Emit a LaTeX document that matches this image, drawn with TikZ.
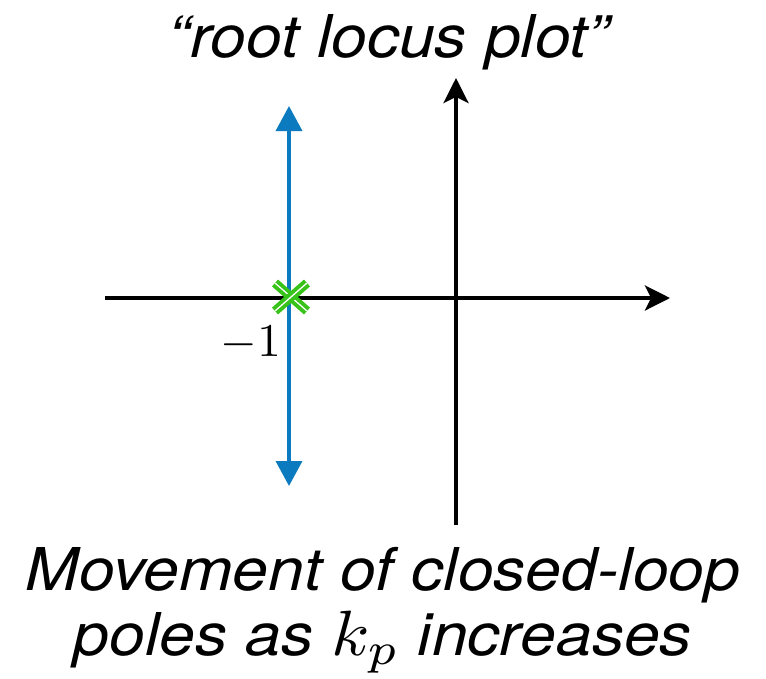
\documentclass[tikz,border=0pt]{standalone}
\usepackage{graphicx}
\usepackage{fontspec}
\setmainfont{TeX Gyre Heros}
\usetikzlibrary{arrows.meta}
\definecolor{locusblue}{RGB}{12,122,190}
\definecolor{polegreen}{RGB}{55,195,25}
\newcommand{\mymath}[2]{{\fontsize{10}{12}\selectfont\scalebox{#1}{$#2$}}}
\begin{document}
\begin{tikzpicture}[x=1pt,y=-1pt,
  axis/.style={line width=3.6pt, -{Stealth[length=25pt,width=25pt,inset=6pt]}},
  locus/.style={locusblue, line width=3.6pt, -{Triangle[length=25pt,width=26pt]}},
  polemark/.style={polegreen, line width=3.9pt, double=white, double distance=1.3pt},
  lbl/.style={font=\fontsize{59}{65}\selectfont\itshape, align=center, xscale=1.09, transform shape, inner sep=0pt}]
\useasboundingbox (0,0) rectangle (766,678);
\coordinate (xl) at (105,298);
\coordinate (xr) at (670,298);
\coordinate (yb) at (456,525);
\coordinate (yt) at (456,78);
\coordinate (pole) at (291,297);
\coordinate (lt) at (289,106);
\coordinate (lb) at (289,486);
\draw[axis] (xl) -- (xr);
\draw[axis] (yb) -- (yt);
\draw[locus] (289,298) -- (lt);
\draw[locus] (289,298) -- (lb);
\draw[polemark] ([shift={(-16,-14)}]pole) -- ([shift={(16,14)}]pole);
\draw[polemark] ([shift={(16,-14)}]pole) -- ([shift={(-16,14)}]pole);
\node[anchor=base east, inner sep=0pt] (m1) at (281,356) {\mymath{4.7}{-1}};
\node[lbl, anchor=base] (title) at (389,57) {“root locus plot”};
\node[lbl, anchor=base] (cap1) at (383,590) {Movement of closed-loop};
\node[lbl, anchor=base] (cap2) at (383,655) {poles as \mymath{6.4}{k_p} increases};
\end{tikzpicture}
\end{document}
